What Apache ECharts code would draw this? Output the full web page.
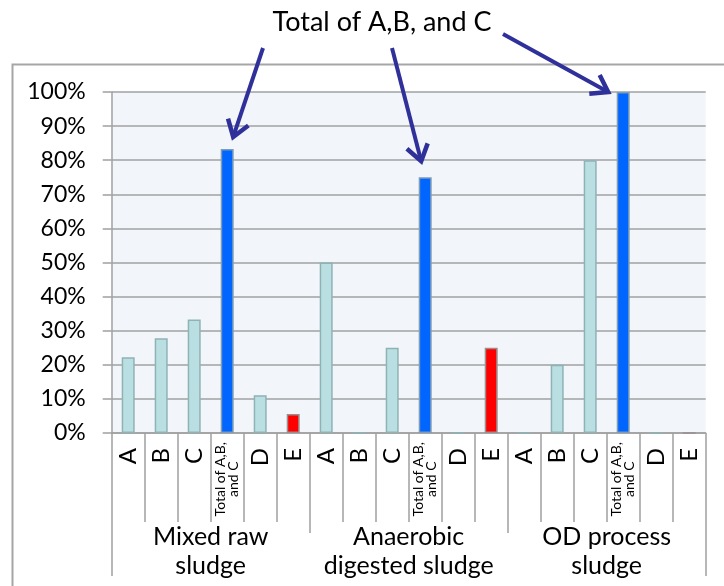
<!DOCTYPE html>
<html>
<head>
<meta charset="utf-8">
<script src="https://cdn.jsdelivr.net/npm/echarts@6/dist/echarts.min.js"></script>
<style>html,body{margin:0;padding:0;background:#fff}#c{width:724px;height:586px}</style>
</head>
<body>
<div id="c"></div>
<script>
// ---- data ----
const categories = ['A', 'B', 'C', 'Total of A,B, and C', 'D', 'E'];
const groups = ['Mixed raw\nsludge', 'Anaerobic\ndigested sludge', 'OD process\nsludge'];
const mixedRaw = [22.2, 27.8, 33.3, 83.3, 11.1, 5.6];
const anaerobic = [50, 0, 25, 75, 0, 25];
const odProcess = [0, 20, 80, 100, 0, 0];
const yTicks = [0, 10, 20, 30, 40, 50, 60, 70, 80, 90, 100];
const annotation = 'Total of A,B, and C';

// ---- build ----
const groupValues = [mixedRaw, anaerobic, odProcess];
const xCats = [];
const values = [];
groupValues.forEach(function (g) {
  categories.forEach(function (c, i) { xCats.push(c); values.push(g[i]); });
});
const teal = '#BADFE2', tealBorder = '#8FB3B5';
function styleFor(name) {
  if (name.indexOf('Total') === 0) return { color: '#0066FF', borderColor: '#7E9CB6', borderWidth: 1.5 };
  if (name === 'E') return { color: '#FF0000', borderColor: '#9A8F8F', borderWidth: 1.5 };
  return { color: teal, borderColor: tealBorder, borderWidth: 1.5 };
}
const barData = values.map(function (v, i) { return { value: v, itemStyle: styleFor(xCats[i]) }; });

const FONT = 'Lato';
const chart = echarts.init(document.getElementById('c'), null, { renderer: 'canvas' });
const option = {
  animation: false,
  backgroundColor: '#fff',
  title: {
    text: annotation, left: 377, top: 4, textAlign: 'center',
    textStyle: { fontFamily: FONT, fontSize: 27, fontWeight: 'normal', color: '#000' }
  },
  grid: { left: 111.7, right: 18.3, top: 92, bottom: 153, show: true, backgroundColor: '#F2F6FA', borderWidth: 0 },
  xAxis: [
    {
      type: 'category', data: xCats, position: 'bottom',
      axisLine: { show: true, lineStyle: { color: '#A0A0A0', width: 1.5 } },
      axisTick: { show: true, length: 89, interval: 0, lineStyle: { color: '#A0A0A0', width: 1.5 } },
      axisLabel: {
        interval: 0, rotate: 90, margin: 9, color: '#000',
        formatter: function (v) {
          if (v.indexOf('Total') === 0) return '{s|Total of A,B,}\n{s|and C}';
          return '{b|' + v + '}';
        },
        rich: {
          s: { fontFamily: FONT, fontSize: 14, lineHeight: 13, color: '#000', align: 'center' },
          b: { fontFamily: FONT, fontSize: 24, color: '#000', padding: [0, 6, 0, 0] }
        }
      }
    },
    {
      type: 'category', data: groups, position: 'bottom',
      axisLine: { show: false },
      axisTick: { show: true, length: 100, interval: 0, lineStyle: { color: '#A0A0A0', width: 1.5 } },
      axisLabel: { interval: 0, margin: 89, fontFamily: FONT, fontSize: 25, lineHeight: 29, color: '#000' }
    },
    {
      type: 'category', data: [''], position: 'bottom',
      axisLine: { show: false },
      axisTick: { show: true, length: 143, lineStyle: { color: '#A0A0A0', width: 1.5 } },
      axisLabel: { show: false }
    }
  ],
  yAxis: {
    type: 'value', min: yTicks[0], max: yTicks[yTicks.length - 1], interval: yTicks[1] - yTicks[0],
    axisLine: { show: true, lineStyle: { color: '#A0A0A0', width: 1.5 } },
    axisTick: { show: true, length: 9, lineStyle: { color: '#A0A0A0', width: 1.5 } },
    splitLine: { show: true, lineStyle: { color: '#A0A0A0', width: 1.5 } },
    axisLabel: { formatter: '{value}%', margin: 26, fontFamily: FONT, fontSize: 23, color: '#000' }
  },
  series: [{
    type: 'bar', xAxisIndex: 0, yAxisIndex: 0, data: barData, barWidth: 13
  }]
};
chart.setOption(option);

// annotation arrows: tips anchored to the "Total" bars via the chart's scales
const arrowSpecs = [
  { start: [263, 48], idx: 3, dx: 6, dy: -12 },
  { start: [392, 48], idx: 9, dx: -4, dy: -16 },
  { start: [503, 34], idx: 15, dx: -15, dy: 0 }
];
const ARROW = '#30309A';
const graphics = [{
  type: 'rect', left: 10, top: 62, z: -10, silent: true,
  shape: { x: 0, y: 0, width: 740, height: 560 },
  style: { fill: 'none', stroke: '#A6A6A6', lineWidth: 2 }
}];
arrowSpecs.forEach(function (a) {
  const p = chart.convertToPixel({ seriesIndex: 0 }, [a.idx, values[a.idx]]);
  const tip = [p[0] + a.dx, p[1] + a.dy];
  const ang = Math.atan2(tip[1] - a.start[1], tip[0] - a.start[0]);
  const L = 19, spread = 0.6;
  const h1 = [tip[0] - L * Math.cos(ang - spread), tip[1] - L * Math.sin(ang - spread)];
  const h2 = [tip[0] - L * Math.cos(ang + spread), tip[1] - L * Math.sin(ang + spread)];
  graphics.push({
    type: 'line', z: 100, silent: true,
    shape: { x1: a.start[0], y1: a.start[1], x2: tip[0], y2: tip[1] },
    style: { stroke: ARROW, lineWidth: 4 }
  });
  graphics.push({
    type: 'polyline', z: 100, silent: true,
    shape: { points: [h1, tip, h2] },
    style: { stroke: ARROW, lineWidth: 4.5, fill: 'none', lineJoin: 'miter' }
  });
});
chart.setOption({ graphic: graphics });
</script>
</body>
</html>
